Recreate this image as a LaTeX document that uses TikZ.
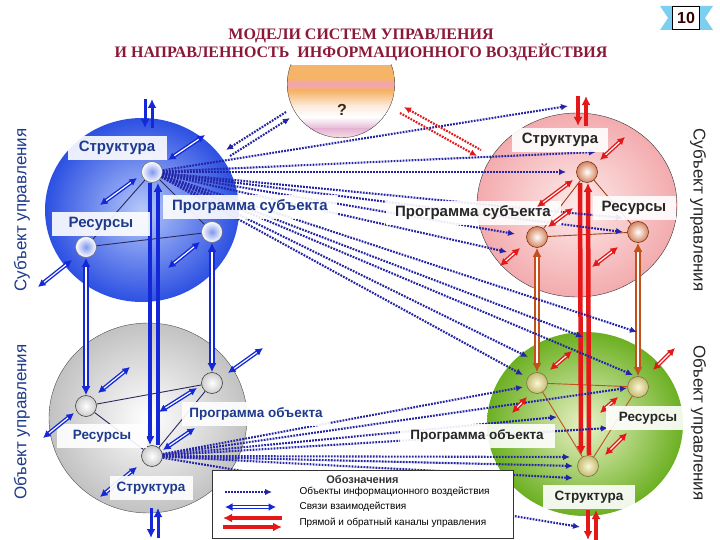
\documentclass[tikz,border=0pt]{standalone}
\usepackage{fontspec}
\setmainfont{Liberation Sans}
\newfontfamily\headfont{Liberation Serif}
\usetikzlibrary{arrows.meta,positioning,calc}
\definecolor{mdlblue}{HTML}{2C50E2}
\definecolor{mdlsky}{HTML}{B6C8FA}
\definecolor{mdlnavy}{HTML}{1E3A8C}
\definecolor{mdlline}{HTML}{2A2A5C}
\definecolor{mdlgray}{HTML}{C2C2C2}
\definecolor{mdlpink}{HTML}{F3ABAE}
\definecolor{mdlrose}{HTML}{FDEAEA}
\definecolor{mdlgreen}{HTML}{6CB022}
\definecolor{mdllime}{HTML}{EAF2C8}
\definecolor{mdlred}{HTML}{E41818}
\definecolor{mdlrust}{HTML}{C4501C}
\definecolor{mdlink}{HTML}{2424A6}
\definecolor{mdlbright}{HTML}{1428D8}
\definecolor{mdlwine}{HTML}{8C1838}
\definecolor{mdlsea}{HTML}{7CCFF0}
\definecolor{mdlorange}{HTML}{F6B468}
\definecolor{mdlflesh}{HTML}{F2A4B2}
\definecolor{mdllilac}{HTML}{E6B6D4}
\definecolor{mdlcream}{HTML}{FCEBDD}
\definecolor{mdlolive}{HTML}{C4BC70}
\definecolor{mdlpale}{HTML}{FAF7D6}

\begin{document}
\begin{tikzpicture}[x=1pt, y=-1pt,
  Dt/.tip={Latex[length=7pt,width=6.5pt]},
  Lk/.tip={Latex[length=7.5pt,width=8pt]},
  Ch/.tip={Latex[length=9pt,width=9pt]},
  Tw/.tip={Latex[length=9pt,width=9pt]},
  knot/.style={circle, minimum size=21pt, inner sep=0pt, line width=0.6pt},
  bknot/.style={knot, draw=black!55, inner color=mdlblue!60, outer color=white},
  gknot/.style={knot, draw=black!75, inner color=white, outer color=black!20},
  pknot/.style={knot, draw=mdlrust!60!black, inner color=white, outer color=mdlrust!70},
  kknot/.style={knot, draw=mdlolive!60!black, inner color=mdlpale, outer color=mdlolive},
  lbl/.style={fill=white, fill opacity=0.9, text opacity=1, inner sep=0pt, minimum height=24pt, font=\bfseries\fontsize{15}{15}\selectfont},
  sml/.style={lbl, font=\bfseries\fontsize{13.5}{13.5}\selectfont},
  side/.style={font=\fontsize{17}{17}\selectfont},
  tie/.style={draw=#1, line width=0.9pt},
  info/.style={draw=#1, line width=2.1pt, dash pattern=on 1.8pt off 1.2pt, -Dt},
  info/.default=mdlink,
  link/.style={draw=#1, line width=1.4pt, double=white, double distance=1.2pt, Lk-Lk},
  chan/.style={draw=#1, line width=4pt},
  twin/.style={draw=#1, line width=1.6pt, double=white, double distance=2pt, Tw-Tw},
  keytxt/.style={anchor=west, font=\fontsize{10}{10}\selectfont}]
  \useasboundingbox (0,0) rectangle (720,540);
  % spheres
  \shade[inner color=mdlsky, outer color=mdlblue] (142,210) ellipse [x radius=97pt, y radius=92pt];
  \shadedraw[inner color=white, outer color=mdlgray, draw=black!70, line width=0.4pt] (148,418) ellipse [x radius=99pt, y radius=95pt];
  \shadedraw[inner color=mdlrose, outer color=mdlpink, draw=black!80, line width=0.4pt] (577,205) ellipse [x radius=100pt, y radius=92pt];
  \shade[inner color=mdllime, outer color=mdlgreen] (585,424) ellipse [x radius=98pt, y radius=92pt];
  % the unknown environment
  \begin{scope}
    \clip (280,65) rectangle (400,140);
    \clip (341,84) circle [radius=54pt];
    \fill[mdlorange] (280,65) rectangle (400,78);
    \shade[top color=mdlorange, bottom color=mdlflesh] (280,78) rectangle (400,84);
    \shade[top color=mdlflesh, bottom color=mdlorange] (280,84) rectangle (400,91);
    \shade[top color=mdlorange, bottom color=mdlcream] (280,91) rectangle (400,106);
    \shade[top color=mdlcream, bottom color=white] (280,106) rectangle (400,117);
    \shade[top color=white, bottom color=mdllilac] (280,117) rectangle (400,129);
    \shade[top color=mdllilac, bottom color=mdlrose] (280,129) rectangle (400,140);
    \draw[black!70, line width=0.8pt] (341,84) circle [radius=54pt];
  \end{scope}
  \node[font=\bfseries\fontsize{16}{16}\selectfont, text=black!70!brown] (q) at (342,110) {?};
  % title and badge
  \node[font=\headfont\bfseries\fontsize{16}{17}\selectfont, text=mdlwine, align=center] (title) at (361,45) {МОДЕЛИ СИСТЕМ УПРАВЛЕНИЯ\\И НАПРАВЛЕННОСТЬ\ \ ИНФОРМАЦИОННОГО ВОЗДЕЙСТВИЯ};
  \fill[mdlsea] (660,6) -- (713,6) -- (705,18) -- (713,30) -- (660,30) -- (668,18) -- cycle;
  \node[draw=black, fill=white, minimum width=27pt, minimum height=23pt, inner sep=0pt, font=\bfseries\fontsize{16}{16}\selectfont, text=black!80!red] (badge) at (686,18) {10};
  \node[side, text=mdlnavy, rotate=90] (ls) at (22,210) {Субъект управления};
  \node[side, text=mdlnavy, rotate=90] (lo) at (22,422) {Объект управления};
  \node[side, text=black!85, rotate=-90] (rs) at (698,210) {Субъект управления};
  \node[side, text=black!85, rotate=-90] (ro) at (698,423) {Объект управления};
  % elements
  \node[bknot] (bs) at (152,172) {};
  \node[bknot] (br) at (86,247) {};
  \node[bknot] (bp) at (212,232) {};
  \node[gknot] (gs) at (152,456) {};
  \node[gknot] (gr) at (86,406) {};
  \node[gknot] (gp) at (212,383) {};
  \node[pknot] (ps) at (587,172) {};
  \node[pknot] (pp) at (537,237) {};
  \node[pknot] (pr) at (638,232) {};
  \node[kknot] (ks) at (588,466) {};
  \node[kknot] (kp) at (537,383) {};
  \node[kknot] (kr) at (638,387) {};
  \draw[tie=mdlline] (br) -- (bs) -- (bp) -- (br);
  \draw[tie=mdlline] (gr) -- (gs) -- (gp) -- (gr);
  \draw[tie=mdlrust!80!black] (pp) -- (ps) -- (pr) -- (pp);
  \draw[tie=mdlrust] (kp) -- (ks) -- (kr) -- (kp);
  % control channels
  \draw[chan=mdlbright, -Ch] ([xshift=-2pt]bs.south) -- ([xshift=-2pt]gs.north);
  \draw[chan=mdlbright, Ch-] ([xshift=6pt]bs.south) -- ([xshift=6pt]gs.north);
  \draw[chan=mdlred, line width=4.5pt, -Ch] ([xshift=-7pt]ps.south) -- ([xshift=-7pt]ks.north);
  \draw[chan=mdlred, line width=4.5pt, Ch-] ([xshift=1pt]ps.south) -- ([xshift=1pt]ks.north);
  \coordinate (bup) at (149,99);
  \coordinate (blo) at (149,128);
  \draw[chan=mdlbright, line width=3pt, -Ch] ([xshift=-4pt]bup) -- ([xshift=-4pt]blo);
  \draw[chan=mdlbright, line width=3pt, -Ch] ([xshift=3pt]blo) -- ([xshift=3pt]bup);
  \coordinate (gup) at (155,508);
  \coordinate (glo) at (155,538);
  \draw[chan=mdlbright, line width=3pt, -Ch] ([xshift=-4pt]gup) -- ([xshift=-4pt]glo);
  \draw[chan=mdlbright, line width=3pt, -Ch] ([xshift=3pt]glo) -- ([xshift=3pt]gup);
  \coordinate (pup) at (582,96);
  \coordinate (plo) at (582,126);
  \draw[chan=mdlred, line width=3.5pt, -Ch] ([xshift=-4pt]pup) -- ([xshift=-4pt]plo);
  \draw[chan=mdlred, line width=3.5pt, -Ch] ([xshift=4pt]plo) -- ([xshift=4pt]pup);
  \coordinate (kup) at (592,510);
  \coordinate (klo) at (592,540);
  \draw[chan=mdlred, line width=3.5pt, -Ch] ([xshift=-4pt]kup) -- ([xshift=-4pt]klo);
  \draw[chan=mdlred, line width=3.5pt, -Ch] ([xshift=4pt]klo) -- ([xshift=4pt]kup);
  \draw[twin=mdlbright] (br) -- (gr);
  \draw[twin=mdlbright] (bp) -- (gp);
  \draw[twin=mdlrust] (pp) -- (kp);
  \draw[twin=mdlrust] (pr) -- (kr);
  % information influence
  \foreach \p [count=\i] in {{568,106},{596,152},{566,172},{515,234},{507,252},{623,218},{623,232},{583,337},{637,332},{528,357},{523,375},{633,375}}
    {\coordinate (i\i) at (\p); \draw[info] (bs) -- (i\i);}
  \foreach \p [count=\i] in {{523,387},{627,388},{557,417},{608,428},{570,457},{573,466},{573,478},{580,527}}
    {\coordinate (j\i) at (\p); \draw[info] (gs) -- (j\i);}
  \coordinate (qa1) at (226,150); \coordinate (qb1) at (286,112);
  \coordinate (qa2) at (230,156); \coordinate (qb2) at (290,118);
  \draw[info, Dt-] (qa1) -- (qb1);
  \draw[info] (qa2) -- (qb2);
  \coordinate (ra1) at (404,107); \coordinate (rb1) at (481,150);
  \coordinate (ra2) at (400,113); \coordinate (rb2) at (477,156);
  \draw[info=mdlred, Dt-] (ra1) -- (rb1);
  \draw[info=mdlred] (ra2) -- (rb2);
  % links under the labels
  \foreach \a/\b/\c [count=\i] in {{100,497}/{137,467}/mdlbright, {600,413}/{618,397}/mdlred}
    {\coordinate (ua\i) at (\a); \coordinate (ub\i) at (\b); \draw[link=\c] (ua\i) -- (ub\i);}
  % labels
  \node[lbl, text=mdlnavy, minimum width=99pt] (bsl) at (117,148) {Структура};
  \node[lbl, text=mdlnavy, minimum width=98pt] (brl) at (101,224) {Ресурсы};
  \node[lbl, text=mdlnavy, minimum width=174pt] (bpl) at (250,207) {Программа субъекта};
  \node[sml, text=mdlnavy, minimum width=148pt] (gpl) at (256,414) {Программа объекта};
  \node[sml, text=mdlnavy, minimum width=90pt] (grl) at (102,436) {Ресурсы};
  \node[sml, text=mdlnavy, minimum width=83pt] (gsl) at (151,488) {Структура};
  \node[lbl, text=black!85, minimum width=96pt] (psl) at (560,140) {Структура};
  \node[lbl, text=black!85, minimum width=175pt] (ppl) at (473,213) {Программа субъекта};
  \node[lbl, text=black!85, minimum width=83pt] (prl) at (634,208) {Ресурсы};
  \node[sml, text=black!85, minimum width=85pt] (krl) at (648,418) {Ресурсы};
  \node[sml, text=black!85, minimum width=155pt] (kpl) at (477,436) {Программа объекта};
  \node[sml, text=black!85, minimum width=92pt] (ksl) at (589,497) {Структура};
  % links over the labels
  \foreach \a/\b/\c [count=\i] in {{168,160}/{205,135}/mdlbright, {100,205}/{137,178}/mdlbright, {38,287}/{72,260}/mdlbright,
      {168,268}/{200,242}/mdlbright, {98,393}/{130,367}/mdlbright, {43,438}/{74,413}/mdlbright, {159,412}/{197,388}/mdlbright,
      {163,450}/{195,428}/mdlbright, {228,373}/{263,348}/mdlbright, {600,160}/{625,137}/mdlred, {537,207}/{573,180}/mdlred,
      {548,227}/{573,208}/mdlred, {500,266}/{520,248}/mdlred, {592,267}/{618,247}/mdlred, {653,370}/{675,348}/mdlred,
      {605,455}/{627,433}/mdlred, {512,413}/{527,397}/mdlred, {550,370}/{572,351}/mdlred}
    {\coordinate (la\i) at (\a); \coordinate (lb\i) at (\b); \draw[link=\c] (la\i) -- (lb\i);}
  % legend
  \node[draw=black!80, line width=0.6pt, fill=white, minimum width=301pt, minimum height=68pt, inner sep=0pt] (key) at (362.5,504) {};
  \node[font=\bfseries\fontsize{11}{11}\selectfont, text=black!80, below=2pt of key.north] (keyt) {Обозначения};
  \coordinate (ka1) at (225,492); \coordinate (kb1) at (272,492);
  \draw[info] (ka1) -- (kb1);
  \node[keytxt] (kt1) at (296,492) {Объекты информационного воздействия};
  \coordinate (ka2) at (225,507); \coordinate (kb2) at (276,507);
  \draw[link=mdlbright] (ka2) -- (kb2);
  \node[keytxt] (kt2) at (296,507) {Связи взаимодействия};
  \coordinate (ka3) at (223,518); \coordinate (kb3) at (282,518);
  \draw[chan=mdlred, Ch-] (ka3) -- (kb3);
  \coordinate (ka4) at (223,527); \coordinate (kb4) at (282,527);
  \draw[chan=mdlred, -Ch] (ka4) -- (kb4);
  \node[keytxt] (kt3) at (296,523) {Прямой и обратный каналы управления};
\end{tikzpicture}
\end{document}
